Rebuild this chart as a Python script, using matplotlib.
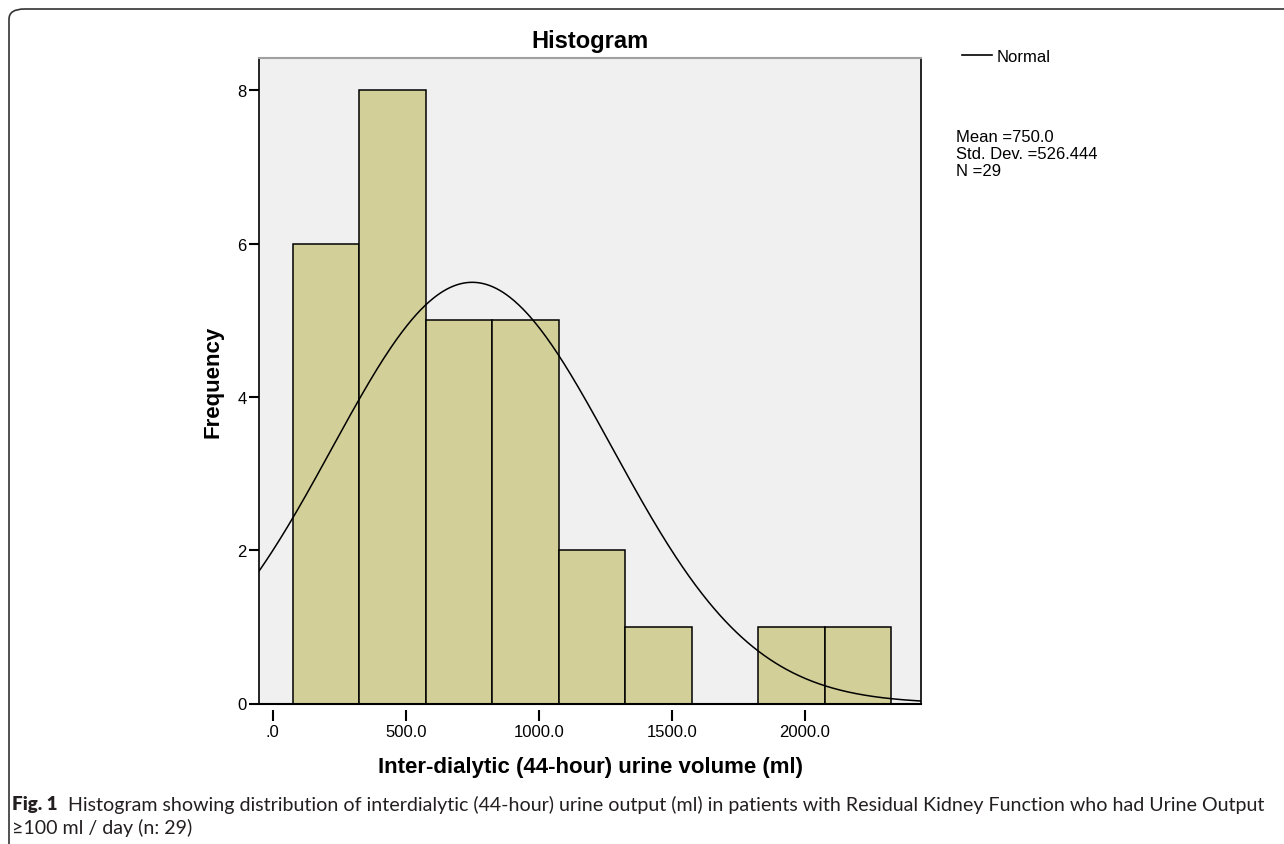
import numpy as np
import matplotlib
matplotlib.use("Agg")
import matplotlib.pyplot as plt
from matplotlib.patches import FancyBboxPatch
from matplotlib.lines import Line2D

# Histogram data
bin_edges = [75, 325, 575, 825, 1075, 1325, 1575, 1825, 2075, 2325]
counts = [6, 8, 5, 5, 2, 1, 0, 1, 1]
mean_val = 750.0
sd_val = 526.444
n_val = 29

x_ticks = [0, 500, 1000, 1500, 2000]
x_tick_labels = [".0", "500.0", "1000.0", "1500.0", "2000.0"]
y_ticks = [0, 2, 4, 6, 8]

plt.rcParams['font.family'] = ['Liberation Sans', 'DejaVu Sans']

W, H = 1284, 845
fig = plt.figure(figsize=(W / 100, H / 100), dpi=100)
fig.patch.set_facecolor('white')

# page frame with rounded corner
frame = FancyBboxPatch((9 / W, -20 / H), 1.2, (H - 10 + 20) / H,
                       boxstyle="round,pad=0,rounding_size=0.012",
                       transform=fig.transFigure, fill=False,
                       edgecolor='#333333', lw=1.2, clip_on=False)
fig.patches.append(frame)

ax = fig.add_axes([259 / W, (H - 704.5) / H, 662 / W, 645.5 / H])
ax.set_facecolor('#f0f0f0')

widths = np.diff(bin_edges)
ax.bar(bin_edges[:-1], counts, width=widths, align='edge',
       color='#d3cf99', edgecolor='black', linewidth=1.1, zorder=2)

ax.set_xlim(-51, 2436)
ax.set_ylim(0, 8.42)

# normal curve scaled to counts
bw = widths[0]
xs = np.linspace(-51, 2436, 600)
ys = n_val * bw / (sd_val * np.sqrt(2 * np.pi)) * np.exp(-0.5 * ((xs - mean_val) / sd_val) ** 2)
ax.plot(xs, ys, color='black', lw=1.1, zorder=3)

# spines
ax.spines['top'].set_color('#a0a0a0')
ax.spines['top'].set_linewidth(1.5)
ax.spines['right'].set_linewidth(1.2)
ax.spines['left'].set_linewidth(1.2)
ax.spines['bottom'].set_position(('outward', 5))
ax.spines['bottom'].set_color('none')
ax.axhline(0, color='black', lw=1.5, zorder=4, clip_on=False)

ax.set_xticks(x_ticks)
ax.set_xticklabels(x_tick_labels)
ax.set_yticks(y_ticks)
ax.tick_params(axis='x', length=8, width=1.5, labelsize=12, pad=2)
ax.tick_params(axis='y', length=7, width=1.5, labelsize=12, pad=2)

ax.set_title("Histogram", fontsize=17, fontweight='bold', pad=8)
ax.set_xlabel("Inter-dialytic (44-hour) urine volume (ml)", fontsize=16,
              fontweight='bold', labelpad=12)
ax.set_ylabel("Frequency", fontsize=16, fontweight='bold', labelpad=10)

# legend and stats
fig.add_artist(Line2D([962 / W, 992 / W], [1 - 55.5 / H, 1 - 55.5 / H],
                      color='black', lw=1.2, transform=fig.transFigure))
fig.text(997 / W, 1 - 57 / H, "Normal", fontsize=12, va='center', ha='left')
stats = ["Mean =750.0", "Std. Dev. =526.444", "N =29"]
for i, s in enumerate(stats):
    fig.text(956 / W, 1 - (137.5 + 16.8 * i) / H, s, fontsize=12,
             va='center', ha='left')

# caption
cap_color = '#231f20'
cap_font = ['Lato', 'DejaVu Sans']
t1 = fig.text(12 / W, 1 - 805 / H, "Fig. 1", fontsize=13.5, fontweight='heavy',
              family=cap_font, color=cap_color, va='center', ha='left')
fig.canvas.draw()
r = fig.canvas.get_renderer()
bb = t1.get_window_extent(r)
t2 = fig.text((bb.x1 + 10) / W, 1 - 805 / H,
              "Histogram showing distribution of interdialytic (44-hour) urine output (ml) in patients "
              "with Residual Kidney Function who had Urine Output",
              fontsize=12, family=cap_font, color=cap_color, va='center', ha='left')
bb2 = t2.get_window_extent(r)
fs = 12 * (1262 - (bb.x1 + 10)) / bb2.width
t2.set_fontsize(fs)
fig.text(12 / W, 1 - 828 / H, "≥100 ml / day (n: 29)", fontsize=fs,
         family=cap_font, color=cap_color, va='center', ha='left')

fig.savefig("out.png", dpi=100)
